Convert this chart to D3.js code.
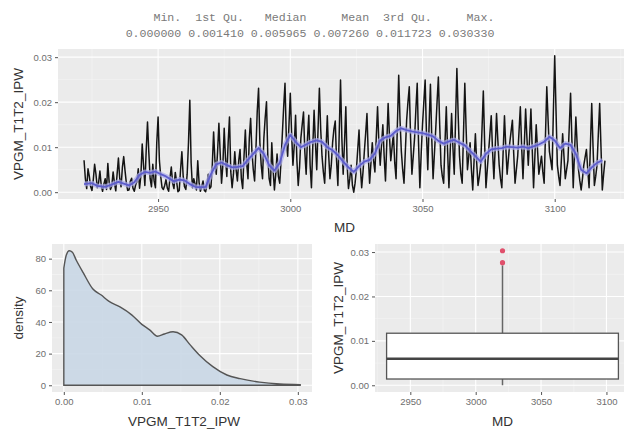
<!DOCTYPE html>
<meta charset="utf-8">
<script src="https://d3js.org/d3.v7.min.js"></script>
<style>
body { margin: 0; background: #fff; }
text { font-family: "Liberation Sans", Arial, sans-serif; }
.tick text { fill: #6e6e6e; font-size: 9.5px; }
.tick line { stroke: #555; }
.title { fill: #333; font-size: 13.5px; }
.summary { font-family: "Liberation Mono", "DejaVu Sans Mono", monospace; font-size: 11.6px; fill: #7a7a7a; white-space: pre; }
</style>
<div id="my_dataviz"></div>
<script>

// summary() output printed above the plots
var summaryLabels = ["Min.", "1st Qu.", "Median", "Mean", "3rd Qu.", "Max."]
var summaryValues = [0.000000, 0.001410, 0.005965, 0.007260, 0.011723, 0.030330]

// log samples, every half foot of MD starting at mdStart
var mdStart = 2922, mdStep = 0.5
var ipw = [
  0.0071, 0.0030, 0.0008, 0.0052, 0.0035, 0.0012, 0.0004, 0.0028, 0.0062, 0.0040, 0.0010, 0.0021, 0.0047, 0.0015, 0.0002, 0.0018, 0.0030, 0.0006, 0.0064, 0.0022,
  0.0006, 0.0014, 0.0045, 0.0020, 0.0003, 0.0040, 0.0076, 0.0030, 0.0012, 0.0055, 0.0079, 0.0048, 0.0020, 0.0004, 0.0005, 0.0024, 0.0031, 0.0009, 0.0002, 0.0016,
  0.0024, 0.0052, 0.0009, 0.0038, 0.0107, 0.0060, 0.0015, 0.0092, 0.0156, 0.0088, 0.0030, 0.0012, 0.0062, 0.0025, 0.0010, 0.0110, 0.0167, 0.0070, 0.0035, 0.0010,
  0.0006, 0.0015, 0.0028, 0.0009, 0.0002, 0.0032, 0.0056, 0.0020, 0.0008, 0.0044, 0.0024, 0.0001, 0.0004, 0.0050, 0.0090, 0.0035, 0.0012, 0.0006, 0.0040, 0.0110,
  0.0204, 0.0065, 0.0010, 0.0030, 0.0018, 0.0005, 0.0070, 0.0022, 0.0002, 0.0012, 0.0025, 0.0004, 0.0001, 0.0018, 0.0040, 0.0008, 0.0012, 0.0060, 0.0134, 0.0070,
  0.0040, 0.0090, 0.0153, 0.0085, 0.0020, 0.0060, 0.0142, 0.0075, 0.0035, 0.0110, 0.0167, 0.0045, 0.0010, 0.0040, 0.0090, 0.0050, 0.0025, 0.0070, 0.0095, 0.0030,
  0.0008, 0.0080, 0.0138, 0.0065, 0.0030, 0.0120, 0.0164, 0.0090, 0.0050, 0.0025, 0.0095, 0.0180, 0.0231, 0.0110, 0.0060, 0.0030, 0.0120, 0.0165, 0.0201, 0.0080,
  0.0030, 0.0015, 0.0110, 0.0050, 0.0005, 0.0040, 0.0085, 0.0035, 0.0020, 0.0070, 0.0130, 0.0190, 0.0242, 0.0120, 0.0080, 0.0150, 0.0220, 0.0130, 0.0060, 0.0105,
  0.0171, 0.0070, 0.0015, 0.0055, 0.0120, 0.0150, 0.0178, 0.0090, 0.0040, 0.0120, 0.0171, 0.0060, 0.0010, 0.0100, 0.0182, 0.0110, 0.0050, 0.0140, 0.0231, 0.0140,
  0.0080, 0.0045, 0.0020, 0.0095, 0.0170, 0.0085, 0.0030, 0.0060, 0.0110, 0.0140, 0.0158, 0.0070, 0.0015, 0.0130, 0.0249, 0.0120, 0.0040, 0.0110, 0.0190, 0.0060,
  0.0008, 0.0030, 0.0060, 0.0015, 0.0000, 0.0020, 0.0050, 0.0095, 0.0138, 0.0055, 0.0010, 0.0045, 0.0090, 0.0130, 0.0175, 0.0080, 0.0020, 0.0065, 0.0110, 0.0070,
  0.0045, 0.0120, 0.0190, 0.0110, 0.0060, 0.0105, 0.0150, 0.0080, 0.0025, 0.0110, 0.0197, 0.0125, 0.0070, 0.0100, 0.0130, 0.0065, 0.0030, 0.0150, 0.0260, 0.0160,
  0.0090, 0.0050, 0.0020, 0.0090, 0.0160, 0.0200, 0.0234, 0.0120, 0.0040, 0.0080, 0.0120, 0.0185, 0.0242, 0.0110, 0.0010, 0.0085, 0.0150, 0.0200, 0.0249, 0.0130,
  0.0050, 0.0150, 0.0240, 0.0120, 0.0030, 0.0085, 0.0140, 0.0200, 0.0256, 0.0150, 0.0060, 0.0035, 0.0020, 0.0110, 0.0190, 0.0090, 0.0010, 0.0095, 0.0175, 0.0100,
  0.0040, 0.0160, 0.0275, 0.0170, 0.0080, 0.0040, 0.0020, 0.0130, 0.0242, 0.0140, 0.0050, 0.0080, 0.0110, 0.0050, 0.0005, 0.0070, 0.0130, 0.0065, 0.0015, 0.0035,
  0.0060, 0.0140, 0.0225, 0.0110, 0.0010, 0.0050, 0.0090, 0.0130, 0.0170, 0.0090, 0.0030, 0.0100, 0.0175, 0.0115, 0.0060, 0.0030, 0.0010, 0.0090, 0.0170, 0.0100,
  0.0040, 0.0075, 0.0110, 0.0135, 0.0160, 0.0085, 0.0020, 0.0050, 0.0080, 0.0135, 0.0190, 0.0100, 0.0030, 0.0105, 0.0185, 0.0120, 0.0060, 0.0120, 0.0185, 0.0095,
  0.0010, 0.0080, 0.0150, 0.0095, 0.0040, 0.0060, 0.0080, 0.0045, 0.0020, 0.0125, 0.0234, 0.0160, 0.0090, 0.0070, 0.0050, 0.0180, 0.0303, 0.0180, 0.0060, 0.0035,
  0.0015, 0.0070, 0.0130, 0.0080, 0.0030, 0.0050, 0.0070, 0.0145, 0.0220, 0.0115, 0.0010, 0.0090, 0.0167, 0.0105, 0.0050, 0.0025, 0.0005, 0.0030, 0.0060, 0.0078,
  0.0095, 0.0050, 0.0010, 0.0105, 0.0197, 0.0100, 0.0015, 0.0035, 0.0060, 0.0130, 0.0197, 0.0100, 0.0005, 0.0040, 0.0070
]

// smoothed (blue) curve
var smoothMD = [2922, 2925, 2927, 2930, 2932, 2935, 2937, 2939, 2941, 2943, 2945, 2947, 2949, 2951, 2953, 2956, 2958, 2960, 2962, 2964,
  2966, 2968, 2970, 2972, 2974, 2976, 2978, 2980, 2982, 2984, 2986, 2988, 2990, 2992, 2994, 2996, 2998, 3000, 3002, 3004,
  3006, 3008, 3010, 3012, 3014, 3016, 3018, 3020, 3022, 3024, 3026, 3028, 3030, 3032, 3034, 3036, 3038, 3040, 3042, 3044,
  3046, 3048, 3050, 3052, 3054, 3056, 3058, 3060, 3062, 3064, 3066, 3068, 3070, 3072, 3074, 3076, 3078, 3080, 3082, 3084,
  3086, 3088, 3090, 3092, 3094, 3096, 3098, 3100, 3102, 3104, 3106, 3108, 3110, 3112, 3114, 3116, 3118]
var smoothIPW = [0.0018, 0.0020, 0.0014, 0.0012, 0.0016, 0.0023, 0.0019, 0.0015, 0.0022, 0.0038, 0.0045, 0.0043, 0.0046, 0.0040, 0.0035, 0.0024, 0.0028, 0.0026, 0.0018, 0.0012,
  0.0011, 0.0012, 0.0040, 0.0062, 0.0066, 0.0060, 0.0055, 0.0056, 0.0058, 0.0072, 0.0085, 0.0098, 0.0085, 0.0060, 0.0048, 0.0065, 0.0105, 0.0127, 0.0112, 0.0100,
  0.0106, 0.0112, 0.0115, 0.0112, 0.0100, 0.0093, 0.0082, 0.0068, 0.0055, 0.0045, 0.0058, 0.0068, 0.0072, 0.0086, 0.0115, 0.0122, 0.0125, 0.0136, 0.0142, 0.0138,
  0.0135, 0.0133, 0.0131, 0.0128, 0.0124, 0.0114, 0.0108, 0.0113, 0.0116, 0.0110, 0.0104, 0.0092, 0.0080, 0.0068, 0.0085, 0.0095, 0.0097, 0.0098, 0.0101, 0.0100,
  0.0099, 0.0101, 0.0098, 0.0102, 0.0106, 0.0112, 0.0123, 0.0115, 0.0098, 0.0108, 0.0105, 0.0085, 0.0050, 0.0042, 0.0055, 0.0065, 0.0071]

// density curve
var densX = [0.0000, 0.0003, 0.0007, 0.0011, 0.0016, 0.0025, 0.0037, 0.0048, 0.0058, 0.0072, 0.0087, 0.0100, 0.0110, 0.0120, 0.0129, 0.0140, 0.0151, 0.0162, 0.0174, 0.0191, 0.0209, 0.0226, 0.0251, 0.0277, 0.0303]
var densY = [74, 82, 85, 84, 79, 71, 61, 57, 53, 49.5, 44.5, 38.5, 35, 31, 32.4, 33.8, 31.8, 25.5, 19, 11.8, 6.5, 4.2, 2.0, 0.8, 0.4]

// boxplot stats
var boxStats = [0.0, 0.001410, 0.005965, 0.011723, 0.0270]  // lower whisker, Q1, median, Q3, upper whisker
var boxOutliers = [0.0276, 0.0303]
var boxMdRange = [2922, 3119]

var width = 624, height = 430

var svg = d3.select("#my_dataviz")
  .append("svg")
    .attr("width", width)
    .attr("height", height)

// summary text
function pad(s, n) { while (s.length < n) s = " " + s; return s }
var line1 = summaryLabels.map(function(d){ return pad(d, 8) }).join(" ")
var line2 = summaryValues.map(function(d){ return pad(d.toFixed(6), 8) }).join(" ")
svg.append("text").attr("class", "summary").attr("x", 310).attr("y", 21).attr("text-anchor", "middle").text(line1)
svg.append("text").attr("class", "summary").attr("x", 310).attr("y", 37).attr("text-anchor", "middle").text(line2)

function expand(ext) {
  var m = (ext[1] - ext[0]) * 0.05
  return [ext[0] - m, ext[1] + m]
}

// draws panel background, grid and axes
function panel(x, y, xMajor, xMinor, yMajor, yMinor, xFmt, yFmt) {
  var r = x.range(), t = y.range()
  var g = svg.append("g")
  g.append("rect")
    .attr("x", r[0]).attr("y", t[1])
    .attr("width", r[1] - r[0]).attr("height", t[0] - t[1])
    .attr("fill", "#ebebeb")
  g.selectAll(".vminor").data(xMinor).enter().append("line")
    .attr("x1", x).attr("x2", x).attr("y1", t[1]).attr("y2", t[0])
    .attr("stroke", "#f5f5f5").attr("stroke-width", 0.6)
  g.selectAll(".hminor").data(yMinor).enter().append("line")
    .attr("y1", y).attr("y2", y).attr("x1", r[0]).attr("x2", r[1])
    .attr("stroke", "#f5f5f5").attr("stroke-width", 0.6)
  g.selectAll(".vmajor").data(xMajor).enter().append("line")
    .attr("x1", x).attr("x2", x).attr("y1", t[1]).attr("y2", t[0])
    .attr("stroke", "#fff").attr("stroke-width", 1.1)
  g.selectAll(".hmajor").data(yMajor).enter().append("line")
    .attr("y1", y).attr("y2", y).attr("x1", r[0]).attr("x2", r[1])
    .attr("stroke", "#fff").attr("stroke-width", 1.1)

  var xa = svg.append("g")
    .attr("transform", "translate(0," + t[0] + ")")
    .call(d3.axisBottom(x).tickValues(xMajor).tickFormat(xFmt).tickSize(3).tickPadding(3))
  xa.select(".domain").remove()
  var ya = svg.append("g")
    .attr("transform", "translate(" + r[0] + ",0)")
    .call(d3.axisLeft(y).tickValues(yMajor).tickFormat(yFmt).tickSize(3).tickPadding(3))
  ya.select(".domain").remove()
  return g
}

var fmtVal = d3.format(".2f")
var fmtMd = d3.format("d")

// ---- top: IPW vs MD ----
var mdAll = ipw.map(function(d, i){ return mdStart + i * mdStep })
var xTop = d3.scaleLinear().domain(expand(d3.extent(mdAll))).range([58, 631])
var yTop = d3.scaleLinear().domain(expand([0, d3.max(ipw)])).range([199, 49])

panel(xTop, yTop, [2950, 3000, 3050, 3100], [2925, 2975, 3025, 3075, 3125],
  [0, 0.01, 0.02, 0.03], [0.005, 0.015, 0.025], fmtMd, fmtVal)

svg.append("path")
  .datum(ipw)
  .attr("fill", "none")
  .attr("stroke", "#141414")
  .attr("stroke-width", 1.5)
  .attr("stroke-linejoin", "round")
  .attr("d", d3.line()
    .x(function(d, i){ return xTop(mdAll[i]) })
    .y(function(d){ return yTop(d) }))

var smoothLine = d3.line()
  .x(function(d, i){ return xTop(smoothMD[i]) })
  .y(function(d){ return yTop(d) })
svg.append("path").datum(smoothIPW)
  .attr("fill", "none").attr("stroke", "#aaaaec").attr("stroke-width", 5).attr("stroke-opacity", 0.7)
  .attr("stroke-linejoin", "round").attr("d", smoothLine)
svg.append("path").datum(smoothIPW)
  .attr("fill", "none").attr("stroke", "#5d5dcc").attr("stroke-width", 1.8)
  .attr("stroke-linejoin", "round").attr("d", smoothLine)

svg.append("text").attr("class", "title").attr("x", (58 + 631) / 2).attr("y", 232)
  .attr("text-anchor", "middle").text("MD")
svg.append("text").attr("class", "title")
  .attr("transform", "translate(23," + (49 + 199) / 2 + ") rotate(-90)")
  .attr("text-anchor", "middle").text("VPGM_T1T2_IPW")

// ---- bottom left: density ----
var xDen = d3.scaleLinear().domain(expand([0, d3.max(ipw)])).range([52, 312])
var yDen = d3.scaleLinear().domain(expand([0, d3.max(densY)])).range([392, 244])

panel(xDen, yDen, [0, 0.01, 0.02, 0.03], [0.005, 0.015, 0.025],
  [0, 20, 40, 60, 80], [10, 30, 50, 70], fmtVal, fmtMd)

svg.append("path")
  .datum(densY)
  .attr("fill", "#c9d7e6")
  .attr("fill-opacity", 0.9)
  .attr("stroke", "#555")
  .attr("stroke-width", 1.4)
  .attr("d", d3.area()
    .curve(d3.curveMonotoneX)
    .x(function(d, i){ return xDen(densX[i]) })
    .y0(yDen(0))
    .y1(function(d){ return yDen(d) }))

svg.append("text").attr("class", "title").attr("x", 184).attr("y", 426)
  .attr("text-anchor", "middle").text("VPGM_T1T2_IPW")
svg.append("text").attr("class", "title")
  .attr("transform", "translate(23," + (244 + 392) / 2 + ") rotate(-90)")
  .attr("text-anchor", "middle").text("density")

// ---- bottom right: boxplot ----
var boxCenter = (boxMdRange[0] + boxMdRange[1]) / 2
var boxHalf = (boxMdRange[1] - boxMdRange[0]) * 0.45
var xBox = d3.scaleLinear().domain(expand([boxCenter - boxHalf, boxCenter + boxHalf])).range([375, 630])
var yBox = d3.scaleLinear().domain(expand([0, d3.max(boxOutliers)])).range([392, 244])

panel(xBox, yBox, [2950, 3000, 3050, 3100], [2925, 2975, 3025, 3075, 3125],
  [0, 0.01, 0.02, 0.03], [0.005, 0.015, 0.025], fmtMd, fmtVal)

var bx = xBox(boxCenter)
svg.append("line").attr("x1", bx).attr("x2", bx)
  .attr("y1", yBox(boxStats[3])).attr("y2", yBox(boxStats[4]))
  .attr("stroke", "#666").attr("stroke-width", 1.5)
svg.append("line").attr("x1", bx).attr("x2", bx)
  .attr("y1", yBox(boxStats[0])).attr("y2", yBox(boxStats[1]))
  .attr("stroke", "#666").attr("stroke-width", 1.5)
svg.append("rect")
  .attr("x", xBox(boxCenter - boxHalf)).attr("width", xBox(boxCenter + boxHalf) - xBox(boxCenter - boxHalf))
  .attr("y", yBox(boxStats[3])).attr("height", yBox(boxStats[1]) - yBox(boxStats[3]))
  .attr("fill", "#fff").attr("stroke", "#555").attr("stroke-width", 1.3)
svg.append("line")
  .attr("x1", xBox(boxCenter - boxHalf)).attr("x2", xBox(boxCenter + boxHalf))
  .attr("y1", yBox(boxStats[2])).attr("y2", yBox(boxStats[2]))
  .attr("stroke", "#444").attr("stroke-width", 2.4)
svg.selectAll(".outlier").data(boxOutliers).enter().append("circle")
  .attr("cx", bx).attr("cy", function(d){ return yBox(d) }).attr("r", 2.6)
  .attr("fill", "#e0506c")

svg.append("text").attr("class", "title").attr("x", (375 + 630) / 2).attr("y", 426)
  .attr("text-anchor", "middle").text("MD")
svg.append("text").attr("class", "title")
  .attr("transform", "translate(343," + (244 + 392) / 2 + ") rotate(-90)")
  .attr("text-anchor", "middle").text("VPGM_T1T2_IPW")

</script>
